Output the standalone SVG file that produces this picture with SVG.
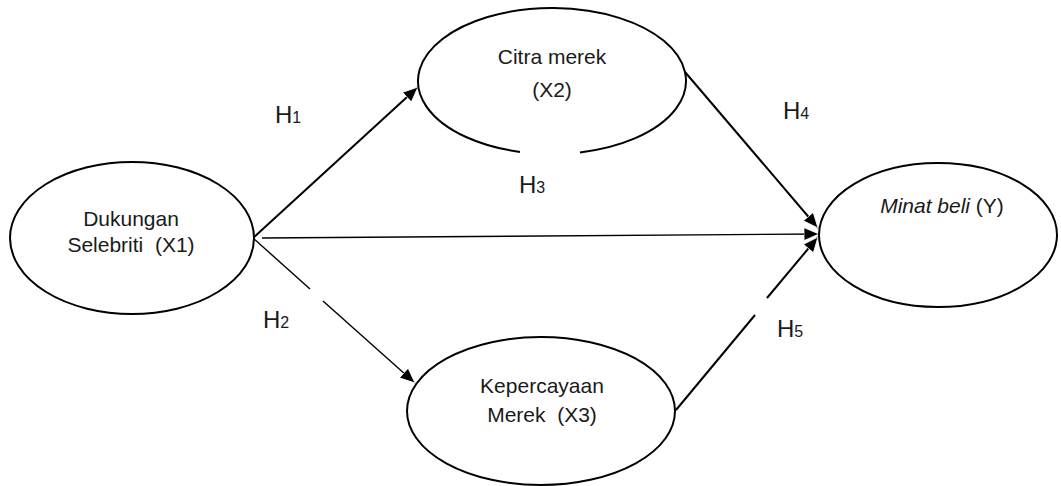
<svg xmlns="http://www.w3.org/2000/svg" width="1061" height="486" viewBox="0 0 1061 486">
  <style>
    .node { fill: #fff; stroke: #000; stroke-width: 2; }
    .label { font-family: "Liberation Sans", Arial, sans-serif; font-size: 21px; fill: #1a1a1a; text-anchor: middle; }
    .hyp { font-family: "Liberation Sans", Arial, sans-serif; font-size: 24px; fill: #1a1a1a; }
    .sub { font-size: 16px; }
    .edge { fill: none; stroke: #000; stroke-width: 2; }
    .thin { stroke-width: 1.4; }
  </style>
  <defs>
    <marker id="arrow" markerUnits="userSpaceOnUse" markerWidth="18" markerHeight="16" refX="15" refY="6.5" orient="auto">
      <path d="M0,0 L15,6.5 L0,13 Z" fill="#000" stroke="#fff" stroke-width="0.8"/>
    </marker>
  </defs>

  <rect width="1061" height="486" fill="#fff"/>

  <g id="connectors">
    <line id="h1" class="edge" x1="253" y1="238" x2="418" y2="87" marker-end="url(#arrow)"/>
    <g id="h2">
      <line class="edge thin" x1="253" y1="238" x2="310" y2="289"/>
      <line class="edge thin" x1="323" y1="301" x2="415" y2="383" marker-end="url(#arrow)"/>
    </g>
    <line id="h3" class="edge thin" x1="262" y1="238" x2="819" y2="234" marker-end="url(#arrow)"/>
    <line id="h4" class="edge" x1="685" y1="72" x2="818" y2="228" marker-end="url(#arrow)"/>
    <g id="h5">
      <line class="edge" x1="676" y1="410" x2="755" y2="315"/>
      <line class="edge" x1="767" y1="298" x2="818" y2="237" marker-end="url(#arrow)"/>
    </g>
  </g>

  <g id="x1">
    <ellipse class="node" cx="132" cy="238" rx="122" ry="76"/>
    <text class="label" x="131" y="226">Dukungan</text>
    <text class="label" x="131" y="252" xml:space="preserve">Selebriti  (X1)</text>
  </g>

  <g id="x2">
    <path class="node" d="M580,152.4 A134,73 0 1 0 520,151.9"/>
    <text class="label" x="552" y="64">Citra merek</text>
    <text class="label" x="552" y="97">(X2)</text>
  </g>

  <g id="x3">
    <ellipse class="node" cx="541" cy="411" rx="134" ry="74"/>
    <text class="label" x="542" y="393">Kepercayaan</text>
    <text class="label" x="542" y="422" xml:space="preserve">Merek  (X3)</text>
  </g>

  <g id="y">
    <ellipse class="node" cx="938" cy="235" rx="119" ry="72"/>
    <text class="label" x="942" y="213"><tspan font-style="italic">Minat beli</tspan> (Y)</text>
  </g>

  <g id="hypotheses">
    <text class="hyp" x="275" y="123">H<tspan class="sub">1</tspan></text>
    <text class="hyp" x="263" y="328">H<tspan class="sub">2</tspan></text>
    <text class="hyp" x="519" y="193">H<tspan class="sub">3</tspan></text>
    <text class="hyp" x="783" y="119">H<tspan class="sub">4</tspan></text>
    <text class="hyp" x="777" y="337">H<tspan class="sub">5</tspan></text>
  </g>
</svg>
